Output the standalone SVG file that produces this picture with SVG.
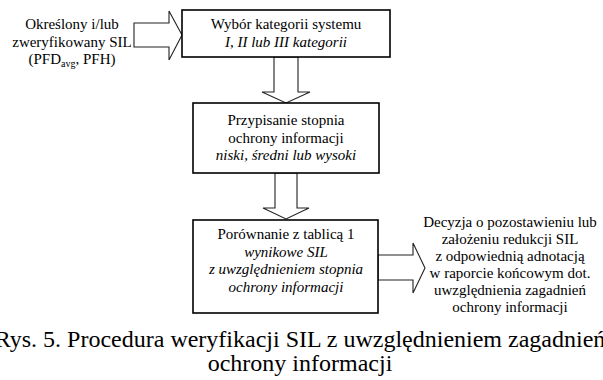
<svg xmlns="http://www.w3.org/2000/svg" width="603" height="380" viewBox="0 0 603 380" font-family="'Liberation Serif', Tinos, 'Times New Roman', 'DejaVu Serif', serif">
<style>
text{font-family:'Liberation Serif',Tinos,'Times New Roman','DejaVu Serif',serif;fill:#000;text-anchor:middle}
.t{font-size:15px}
.i{font-style:italic}
.box{fill:#fff;stroke:#000;stroke-width:1.6}
.arr{fill:#fff;stroke:#222;stroke-width:1.1;stroke-linejoin:miter}
.cap{font-size:24px}
</style>
<rect width="603" height="380" fill="#fff"/>
<g id="connectors">
<polygon class="arr" points="134,23 169,23 169,11 182,35 169,60 169,47 134,47"/>
<polygon class="arr" points="274,57 298,57 298,92 310,92 286,103 262,92 274,92"/>
<polygon class="arr" points="275,173 297,173 297,208 309,208 286,219 263,208 275,208"/>
<polygon class="arr" points="378,255 413,255 413,243 425,268 413,293 413,280 378,280"/>
</g>
<g id="input">
<text class="t" x="72" y="29">Określony i/lub</text>
<text class="t" x="72" y="47">zweryfikowany SIL</text>
<text class="t" x="72" y="64">(PFD<tspan font-size="10" dy="3">avg</tspan><tspan dy="-3">, PFH)</tspan></text>
</g>
<g id="node1">
<rect class="box" x="182" y="10" width="208" height="47"/>
<text class="t" x="286" y="29">Wybór kategorii systemu</text>
<text class="t i" x="286" y="47">I, II lub III kategorii</text>
</g>
<g id="node2">
<rect class="box" x="193" y="103" width="186" height="70"/>
<text class="t" x="286" y="125">Przypisanie stopnia</text>
<text class="t" x="286" y="143">ochrony informacji</text>
<text class="t i" x="286" y="160">niski, średni lub wysoki</text>
</g>
<g id="node3">
<rect class="box" x="193" y="220" width="185" height="93"/>
<text class="t" x="286" y="239">Porównanie z tablicą 1</text>
<text class="t i" x="286" y="257">wynikowe SIL</text>
<text class="t i" x="286" y="274">z uwzględnieniem stopnia</text>
<text class="t i" x="286" y="292">ochrony informacji</text>
</g>
<g id="output">
<text class="t" x="510" y="227">Decyzja o pozostawieniu lub</text>
<text class="t" x="510" y="244">założeniu redukcji SIL</text>
<text class="t" x="510" y="261">z odpowiednią adnotacją</text>
<text class="t" x="510" y="278">w raporcie końcowym dot.</text>
<text class="t" x="510" y="295">uwzględnienia zagadnień</text>
<text class="t" x="510" y="312">ochrony informacji</text>
</g>
<g id="caption">
<text class="cap" x="300" y="347">Rys. 5. Procedura weryfikacji SIL z uwzględnieniem zagadnień</text>
<text class="cap" x="300" y="371">ochrony informacji</text>
</g>
</svg>
